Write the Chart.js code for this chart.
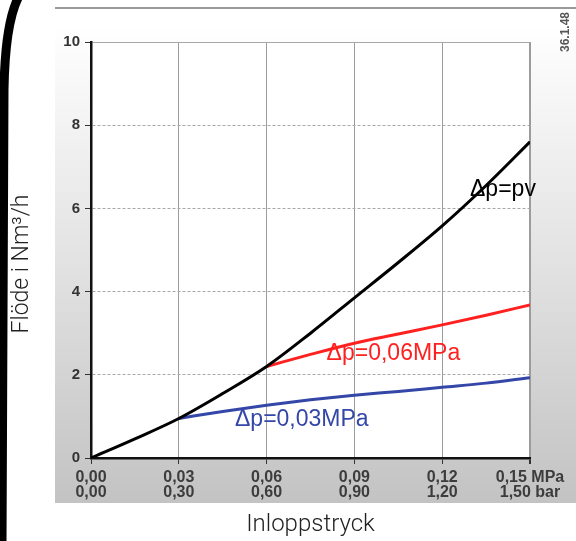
<!DOCTYPE html>
<html>
<head>
<meta charset="utf-8">
<script src="https://cdn.jsdelivr.net/npm/chart.js@4/dist/chart.umd.min.js"></script>
<style>
  html, body { margin: 0; padding: 0; background: #fff; }
  #wrap { width: 576px; height: 541px; }
</style>
</head>
<body>
<div id="wrap"><canvas id="flowChart" width="576" height="541"></canvas></div>
<script>
"use strict";

// inlet pressure in MPa (x) and flow in Nm3/h per curve
const pressure = [0, 0.015, 0.03, 0.045, 0.06, 0.075, 0.09, 0.105, 0.12, 0.135, 0.15];
const flowPv   = [0, 0.46, 0.95, 1.55, 2.2, 3.0, 3.85, 4.7, 5.58, 6.55, 7.6];
const flow006  = [null, null, null, null, 2.2, 2.49, 2.76, 2.98, 3.2, 3.43, 3.68];
const flow003  = [null, null, 0.95, 1.12, 1.27, 1.4, 1.51, 1.6, 1.7, 1.8, 1.93];

const tickValues = [0, 0.03, 0.06, 0.09, 0.12, 0.15];
const mpaLabels = ['0,00', '0,03', '0,06', '0,09', '0,12', '0,15 MPa'];
const barLabels = ['0,00', '0,30', '0,60', '0,90', '1,20', '1,50 bar'];

const curveNames = ['Δp=pv', 'Δp=0,06MPa', 'Δp=0,03MPa'];
const curveColors = ['#000000', '#ff2020', '#3447a8'];
const nameX = [0.1295, 0.0805, 0.0492];
const nameY = [6.44, 2.52, 0.91];

let points = function (ys) {
  return pressure.map((x, i) => ({x: x, y: ys[i]}));
};

const backdrop = {
  id: 'backdrop',
  beforeDraw(chart) {
    const c = chart.ctx;
    const a = chart.chartArea;
    c.save();
    c.fillStyle = '#fff';
    c.fillRect(0, 0, chart.width, chart.height);
    // grey panel behind the plot
    const g = c.createLinearGradient(0, 25, 0, 503);
    g.addColorStop(0, '#ffffff');
    g.addColorStop(0.5, '#e2e2e2');
    g.addColorStop(1, '#c3c3c3');
    c.fillStyle = g;
    c.fillRect(55, 25, 521, 478);
    c.fillStyle = '#fff';
    c.fillRect(a.left, a.top, a.right - a.left, a.bottom - a.top);
    // top rule
    c.strokeStyle = '#9a9a9a';
    c.lineWidth = 2;
    c.beginPath();
    c.moveTo(55, 8);
    c.lineTo(576, 8);
    c.stroke();
    // black bracket on the left edge
    c.strokeStyle = '#000';
    c.lineWidth = 9;
    c.beginPath();
    c.moveTo(18, -2);
    c.quadraticCurveTo(5, 25, 4, 90);
    c.lineTo(2, 545);
    c.stroke();
    // drawing code
    c.translate(566, 32);
    c.rotate(-Math.PI / 2);
    c.fillStyle = '#555';
    c.font = 'bold 12px "Liberation Sans", Arial, sans-serif';
    c.textAlign = 'center';
    c.textBaseline = 'middle';
    c.fillText('36.1.48', 0, 0);
    c.restore();
  },
  afterDraw(chart) {
    const c = chart.ctx;
    c.save();
    c.translate(22, 264);
    c.rotate(-Math.PI / 2);
    c.fillStyle = '#222';
    c.font = '300 23px Roboto, "Liberation Sans", sans-serif';
    c.textAlign = 'center';
    c.textBaseline = 'middle';
    c.fillText('Flöde i Nm³/h', 0, 0);
    c.restore();
  }
};

const curveText = {
  id: 'curveText',
  afterDatasetsDraw(chart) {
    const c = chart.ctx;
    const xs = chart.scales.x;
    const ys = chart.scales.y;
    c.save();
    c.font = '23px "Liberation Sans", Arial, sans-serif';
    c.textAlign = 'left';
    c.textBaseline = 'middle';
    curveNames.forEach((name, i) => {
      c.fillStyle = curveColors[i];
      c.fillText(name, xs.getPixelForValue(nameX[i]), ys.getPixelForValue(nameY[i]));
    });
    c.restore();
  }
};

const ctx = document.getElementById('flowChart').getContext('2d');

const info = {
  datasets: [
    {data: points(flowPv), borderColor: curveColors[0]},
    {data: points(flow006), borderColor: curveColors[1]},
    {data: points(flow003), borderColor: curveColors[2]}
  ]
};

const config = {
  type: 'line',
  data: info,
  options: {
    responsive: false,
    animation: false,
    layout: {padding: {left: 0, top: 42, right: 46, bottom: 0}},
    elements: {
      line: {borderWidth: 3, tension: 0.3, cubicInterpolationMode: 'monotone', fill: false},
      point: {radius: 0}
    },
    plugins: {legend: {display: false}, tooltip: {enabled: false}},
    scales: {
      x: {
        type: 'linear',
        min: 0,
        max: 0.15,
        afterBuildTicks: (scale) => { scale.ticks = tickValues.map(v => ({value: v})); },
        afterFit: (scale) => { scale.height = 83; },
        ticks: {
          autoSkip: false,
          maxRotation: 0,
          padding: 6,
          color: '#3c3c3c',
          font: {family: '"Liberation Sans", Arial, sans-serif', size: 16, weight: 'bold', lineHeight: 0.95},
          callback: (value, index) => [mpaLabels[index], barLabels[index]]
        },
        grid: {
          color: '#9c9c9c',
          lineWidth: (c) => (c.index === tickValues.length - 1 ? 2 : 1),
          tickColor: '#333',
          tickLength: 6
        },
        border: {color: '#111', width: 2.5},
        title: {
          display: true,
          text: 'Inloppstryck',
          color: '#222',
          font: {family: 'Roboto, "Liberation Sans", sans-serif', size: 24, weight: 300},
          padding: {top: 0, bottom: 2}
        }
      },
      y: {
        min: 0,
        max: 10,
        afterFit: (scale) => { scale.width = 91; },
        ticks: {
          stepSize: 2,
          padding: 5,
          color: '#333',
          font: {family: '"Liberation Sans", Arial, sans-serif', size: 15, weight: 'bold'}
        },
        grid: {
          color: '#a8a8a8',
          tickColor: '#333',
          tickLength: 6
        },
        border: {
          color: '#111',
          width: 2.5,
          dash: (c) => (c.tick && c.tick.value > 0 && c.tick.value < 10 ? [3, 2] : [])
        }
      }
    }
  },
  plugins: [backdrop, curveText]
};

let flowChart = new Chart(ctx, config);
</script>
</body>
</html>
